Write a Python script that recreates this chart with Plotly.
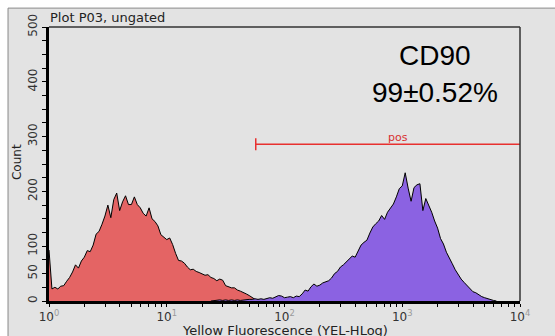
import numpy as np
import plotly.graph_objects as go

# ---- data ----
bin_step = 0.025  # decades per histogram bin (log10 of YEL-HLog)

red_start_bin = 0
red_counts = [93, 22, 25, 22, 27, 28, 36, 43, 53, 66, 60, 73, 80, 92, 90, 102, 122, 127, 140, 155,
              175, 152, 185, 197, 165, 181, 192, 176, 176, 190, 176, 170, 160, 155, 170, 150, 145, 137,
              121, 117, 112, 115, 103, 87, 74, 73, 69, 62, 57, 58, 54, 52, 49, 47, 48, 43, 41, 37, 40,
              38, 28, 26, 24, 24, 20, 18, 16, 13, 10, 6, 3, 2, 1, 0]

blue_start_bin = 55
blue_counts = [0, 1, 1, 2, 1, 2, 1, 2, 1, 2, 1, 2, 2, 3, 3, 4, 3, 4, 3, 5, 6, 5, 8, 10, 9, 6, 7, 8,
               6, 9, 8, 13, 20, 18, 26, 31, 27, 29, 33, 35, 37, 42, 50, 54, 62, 66, 72, 76, 82, 80,
               92, 102, 107, 111, 124, 135, 141, 146, 156, 149, 162, 170, 177, 190, 205, 210, 234,
               206, 182, 207, 212, 214, 165, 187, 176, 162, 146, 133, 114, 104, 89, 77, 68, 57, 48,
               40, 34, 28, 24, 17, 15, 11, 8, 6, 4, 2, 1, 0]

gate_low = 57      # fluorescence where the "pos" gate starts
gate_high = 10000
gate_count = 286   # height at which the gate is drawn
gate_tick = 11

y_tick_vals = [0, 50, 100, 200, 300, 400, 500]
x_decades = [0, 1, 2, 3, 4]

title_text = "Plot P03, ungated"
marker_text = "CD90"
percent_text = "99±0.52%"
gate_label = "pos"
x_title = "Yellow Fluorescence (YEL-HLog)"
y_title = "Count"

# ---- build ----
red_x = 10 ** ((red_start_bin + np.arange(len(red_counts))) * bin_step)
blue_x = 10 ** ((blue_start_bin + np.arange(len(blue_counts))) * bin_step)

BG = "#e3e3e3"

fig = go.Figure()
fig.add_trace(go.Scatter(x=red_x, y=red_counts, mode="lines", fill="tozeroy",
                         fillcolor="#e46464", line=dict(color="black", width=1), hoverinfo="skip"))
fig.add_trace(go.Scatter(x=blue_x, y=blue_counts, mode="lines", fill="tozeroy",
                         fillcolor="#8b62e2", line=dict(color="black", width=1), hoverinfo="skip"))
# gate
fig.add_trace(go.Scatter(x=[gate_low, gate_high], y=[gate_count, gate_count], mode="lines",
                         line=dict(color="#e8302f", width=1.5), hoverinfo="skip"))
fig.add_trace(go.Scatter(x=[gate_low, gate_low], y=[gate_count - gate_tick, gate_count + gate_tick],
                         mode="lines", line=dict(color="#e8302f", width=1.5), hoverinfo="skip"))

x_tickvals = [10 ** d for d in x_decades]
x_ticktext = ["10<sup><span style='color:#9a9a9a'>%d</span></sup>" % d for d in x_decades]
x_minor = [m * 10 ** d for d in x_decades[:-1] for m in range(2, 10)]

fig.update_xaxes(type="log", range=[x_decades[0], x_decades[-1]], showgrid=False, zeroline=False,
                 showline=True, linecolor="black", linewidth=2.5,
                 tickmode="array", tickvals=x_tickvals, ticktext=x_ticktext,
                 ticks="outside", ticklen=3, tickcolor="black", tickwidth=1,
                 minor=dict(tickmode="array", tickvals=x_minor, ticks="outside", ticklen=3,
                            tickcolor="black", showgrid=False),
                 tickfont=dict(family="DejaVu Sans", size=12, color="#333333"))
fig.update_yaxes(range=[0, 500], showgrid=False, zeroline=False,
                 showline=True, linecolor="black", linewidth=2.5,
                 tickmode="array", tickvals=y_tick_vals, ticktext=[str(v) for v in y_tick_vals],
                 ticks="outside", ticklen=4, tickcolor="black", tickwidth=1, tickangle=-90,
                 minor=dict(dtick=25, ticks="outside", ticklen=4, tickcolor="black", showgrid=False),
                 tickfont=dict(family="DejaVu Sans", size=12, color="#333333"))

fig.add_shape(type="rect", xref="paper", yref="paper", x0=-0.087, x1=1.2, y0=-0.3, y1=1.069,
              fillcolor=BG, line=dict(color="#8a8a8a", width=1), layer="below")
fig.add_shape(type="line", xref="paper", yref="paper", x0=0, x1=1, y0=1, y1=1,
              line=dict(color="#333333", width=1.5))
fig.add_shape(type="line", xref="paper", yref="paper", x0=1, x1=1, y0=0, y1=1,
              line=dict(color="#333333", width=1.5))

fig.add_annotation(text=title_text, xref="paper", yref="paper", x=-0.002, y=1.035, xanchor="left",
                   yanchor="middle", showarrow=False,
                   font=dict(family="DejaVu Sans", size=13, color="#222222"))
fig.add_annotation(text=marker_text, xref="paper", yref="paper", x=0.8195, y=0.895,
                   xanchor="center", yanchor="middle", showarrow=False,
                   font=dict(family="Liberation Sans", size=28, color="black"))
fig.add_annotation(text=percent_text, xref="paper", yref="paper", x=0.8195, y=0.760,
                   xanchor="center", yanchor="middle", showarrow=False,
                   font=dict(family="Liberation Sans", size=28, color="black"))
fig.add_annotation(text=gate_label, xref="paper", yref="paper", x=0.741, y=0.598,
                   xanchor="center", yanchor="middle", showarrow=False,
                   font=dict(family="DejaVu Sans", size=11, color="#d83030"))
fig.add_annotation(text=x_title, xref="paper", yref="paper", x=0.5, y=-0.108,
                   xanchor="center", yanchor="middle", showarrow=False,
                   font=dict(family="DejaVu Sans", size=13, color="#222222"))
fig.add_annotation(text=y_title, xref="paper", yref="paper", x=-0.068, y=0.507,
                   xanchor="center", yanchor="middle", showarrow=False, textangle=-90,
                   font=dict(family="DejaVu Sans", size=12, color="#222222"))

fig.update_layout(width=555, height=336, margin=dict(l=49, r=35, t=27, b=35),
                  paper_bgcolor="white", plot_bgcolor=BG, showlegend=False)

fig.write_html("out.html")
